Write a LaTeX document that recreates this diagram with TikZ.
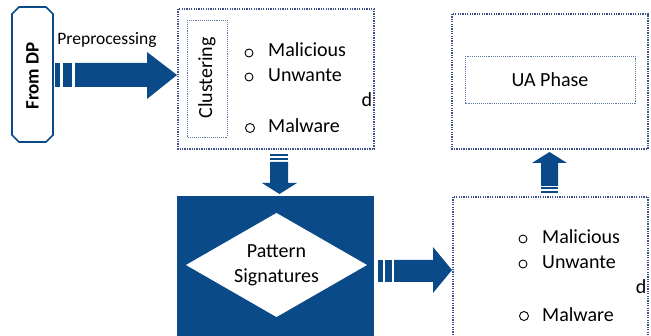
\documentclass[tikz,border=0pt]{standalone}
\usepackage{fontspec}
\setmainfont{Carlito}
\definecolor{dblue}{RGB}{10,74,137}
\definecolor{dotc}{RGB}{60,80,135}
\definecolor{dotl}{RGB}{100,120,170}
\begin{document}
\begin{tikzpicture}[x=1pt,y=-1pt,
  dotbox/.style={draw=dotc, line width=1.1pt, dash pattern=on 1.3pt off 1.1pt},
  innerbox/.style={draw=dotl, line width=0.9pt, dash pattern=on 1.1pt off 1pt},
  txt/.style={font=\fontsize{20}{25}\selectfont, inner sep=0pt},
  bul/.style={circle, draw=black, line width=0.9pt, minimum size=8pt, inner sep=0pt},
  blk/.style={fill=dblue, draw=none}]
\useasboundingbox (0,0) rectangle (651,336);
\clip (0,0) rectangle (651,336);

% From DP
\draw[dblue, line width=1.6pt, fill=white] (19,7) -- (46,7) -- (53,14) -- (53,135) -- (46,142) -- (19,142) -- (12,135) -- (12,14) -- cycle;
\node[txt, font=\fontsize{19}{23}\selectfont\bfseries, rotate=90] (dp) at (32.5,76) {From DP};
\node[txt, font=\fontsize{17.5}{21}\selectfont] (pre) at (107,40) {Preprocessing};

% arrow 1
\fill[blk] (55,63) rectangle (60,87);
\fill[blk] (63,63) rectangle (72,87);
\fill[blk] (75,63) -- (147,63) -- (147,52) -- (177,75) -- (147,99) -- (147,87) -- (75,87) -- cycle;

% Clustering box
\draw[dotbox] (178,9) rectangle (374,149);
\draw[innerbox] (187,20) rectangle (227,137);
\node[txt, rotate=90] (clu) at (207,78) {Clustering};
\node[bul] (c1) at (249,53) {};
\node[bul] (c2) at (249,77) {};
\node[bul, minimum size=9pt] (c3) at (250,128) {};
\node[txt, anchor=base west] (m1) at (268,56.7) {Malicious};
\node[txt, anchor=base west] (u1) at (268,81.7) {Unwante};
\node[txt, anchor=base] (d1) at (367,107) {d};
\node[txt, anchor=base west] (w1) at (268,132.7) {Malware};

% down arrow
\fill[blk] (270,154) rectangle (288,156.5);
\fill[blk] (270,158) rectangle (288,160.5);
\fill[blk] (270,162) -- (288,162) -- (288,183) -- (297,183) -- (279.5,194) -- (262,183) -- (270,183) -- cycle;

% pattern box
\fill[dblue] (177,196) rectangle (374,345);
\fill[white] (186,265) -- (276.5,213) -- (367,265) -- (276.5,317) -- cycle;
\node[txt, align=center] (pat) at (276.5,265) {Pattern\\Signatures};

% arrow 2
\fill[blk] (378,260) rectangle (383,282);
\fill[blk] (385,260) rectangle (392,282);
\fill[blk] (394,260) -- (433,260) -- (433,247) -- (452,270) -- (433,293) -- (433,282) -- (394,282) -- cycle;

% bottom right box
\draw[dotbox] (453,197) rectangle (648,345);
\node[bul] (c4) at (523,239) {};
\node[bul] (c5) at (523,264) {};
\node[bul, minimum size=9pt] (c6) at (524,316) {};
\node[txt, anchor=base west] (m2) at (542,244) {Malicious};
\node[txt, anchor=base west] (u2) at (542,269) {Unwante};
\node[txt, anchor=base] (d2) at (641,294) {d};
\node[txt, anchor=base west] (w2) at (542,321.7) {Malware};

% up arrow
\fill[blk] (541,187) rectangle (558,189.3);
\fill[blk] (541,190.7) rectangle (558,193.3);
\fill[blk] (541,186) -- (541,163) -- (532,163) -- (549.5,152) -- (567,163) -- (558,163) -- (558,186) -- cycle;

% UA box
\draw[dotbox] (452,14) rectangle (648,149);
\draw[innerbox] (465,56) rectangle (635,103);
\node[txt] (ua) at (550,80) {UA Phase};
\end{tikzpicture}
\end{document}
